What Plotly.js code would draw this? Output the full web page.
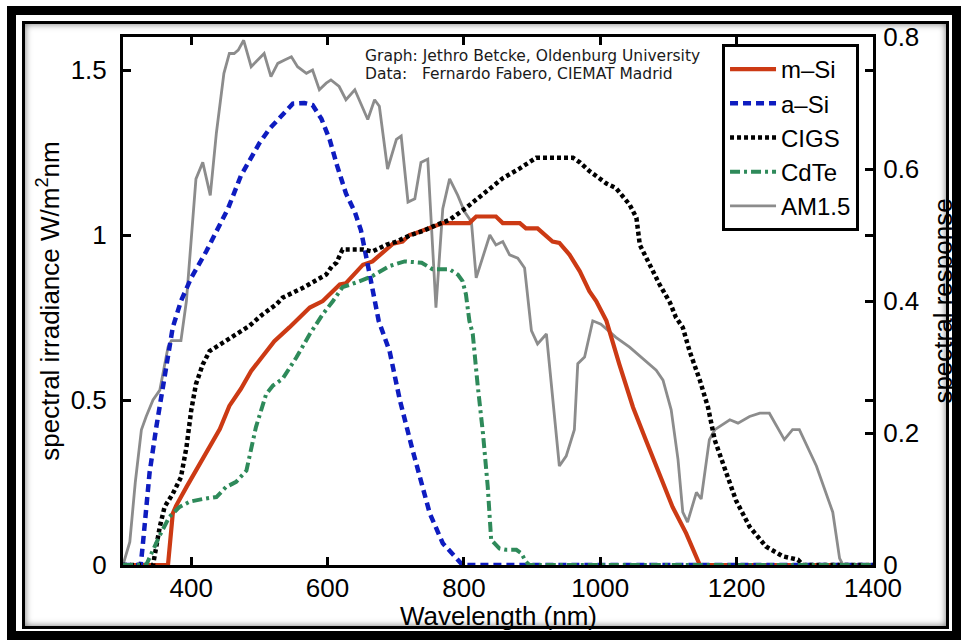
<!DOCTYPE html>
<html>
<head>
<meta charset="utf-8">
<script src="https://cdn.plot.ly/plotly-3.0.1.min.js"></script>
<style>
  html, body { margin: 0; padding: 0; background: #fff; }
  #wrap { position: relative; width: 961px; height: 641px; overflow: hidden; }
  #chart { position: absolute; left: 0; top: 0; width: 961px; height: 641px; }
  .frame-outer { position: absolute; left: 7px; top: 6px; width: 936px; height: 616px; border: 9px solid #000; pointer-events: none; }
  .frame-inner { position: absolute; left: 22px; top: 21px; width: 921px; height: 602px; border: 3px solid #000; pointer-events: none; box-shadow: inset 0 0 7px rgba(0,0,0,0.55); }
</style>
</head>
<body>
<div id="wrap">
  <div id="chart"></div>
  <div class="frame-outer"></div>
  <div class="frame-inner"></div>
</div>
<script>
// AM1.5 spectral irradiance (W/m^2 nm), left axis
const am15_x = [300,310,318,327,334,344,354,366,371,385,393,401,407,417,428,437,448,456,463,469,477,488,498,507,517,527,537,547,556,569,578,588,598,605,617,627,640,659,669,676,688,701,708,718,728,737,747,759,769,779,791,801,811,818,838,847,857,867,879,889,899,908,921,940,950,962,967,977,989,1001,1023,1043,1082,1092,1104,1114,1121,1128,1141,1148,1160,1168,1190,1202,1219,1234,1248,1270,1282,1292,1317,1329,1341,1351,1356,1400];
const am15_y = [0,0.07,0.25,0.41,0.45,0.50,0.53,0.66,0.68,0.68,0.80,1.01,1.17,1.22,1.12,1.31,1.49,1.55,1.55,1.56,1.59,1.51,1.53,1.55,1.48,1.52,1.53,1.54,1.51,1.49,1.50,1.44,1.46,1.47,1.45,1.41,1.44,1.35,1.41,1.39,1.20,1.29,1.30,1.10,1.11,1.22,1.23,0.78,1.08,1.17,1.12,1.07,1.04,0.87,1.00,0.97,0.98,0.94,0.93,0.90,0.71,0.67,0.70,0.30,0.33,0.41,0.61,0.63,0.74,0.73,0.69,0.66,0.59,0.56,0.47,0.32,0.16,0.13,0.22,0.20,0.38,0.41,0.44,0.43,0.45,0.46,0.46,0.38,0.41,0.41,0.30,0.23,0.16,0.02,0,0];

// Spectral responses, right axis
const msi_x = [300,366,373,378,393,410,427,442,456,473,488,505,522,544,564,574,593,603,618,627,652,666,696,710,720,730,750,769,808,818,847,857,882,891,908,930,940,955,970,984,994,1009,1028,1048,1067,1087,1106,1126,1141,1146,1400];
const msi_y = [0,0,0.078,0.09,0.118,0.148,0.178,0.206,0.241,0.267,0.294,0.317,0.339,0.36,0.38,0.39,0.40,0.41,0.425,0.427,0.455,0.46,0.487,0.49,0.50,0.503,0.51,0.518,0.518,0.528,0.528,0.518,0.518,0.51,0.51,0.49,0.488,0.47,0.445,0.415,0.40,0.37,0.304,0.239,0.189,0.138,0.088,0.048,0.013,0,0];

const asi_x = [300,326,329,339,349,361,373,385,400,422,442,454,473,488,500,515,532,549,566,578,591,603,614,627,640,649,659,667,675,691,706,725,735,750,769,791,798,1400];
const asi_y = [0,0,0.03,0.14,0.21,0.29,0.36,0.40,0.435,0.475,0.516,0.54,0.59,0.616,0.639,0.661,0.679,0.699,0.70,0.697,0.676,0.645,0.605,0.563,0.535,0.507,0.455,0.41,0.37,0.324,0.25,0.173,0.133,0.078,0.033,0.008,0,0];

const cigs_x = [300,344,354,361,373,385,393,400,407,417,427,446,466,485,505,525,534,564,598,606,613,622,652,666,686,701,722,740,759,779,803,828,857,882,906,945,960,970,984,1009,1023,1043,1053,1058,1072,1087,1102,1111,1121,1131,1146,1158,1168,1185,1199,1219,1243,1268,1290,1297,1400];
const cigs_y = [0,0,0.058,0.088,0.108,0.133,0.178,0.234,0.274,0.304,0.324,0.337,0.35,0.362,0.38,0.395,0.405,0.42,0.44,0.452,0.458,0.478,0.478,0.475,0.485,0.49,0.50,0.506,0.515,0.523,0.541,0.561,0.586,0.601,0.617,0.617,0.617,0.610,0.597,0.578,0.571,0.546,0.526,0.485,0.455,0.425,0.398,0.375,0.36,0.324,0.28,0.239,0.189,0.138,0.098,0.058,0.028,0.013,0.008,0,0];

const cdte_x = [300,334,354,368,383,398,417,437,451,466,481,495,510,520,534,554,574,593,608,622,642,666,691,713,738,754,779,791,798,803,808,813,820,828,835,840,852,862,877,884,891,896,1400];
const cdte_y = [0,0,0.045,0.073,0.088,0.096,0.10,0.103,0.118,0.126,0.143,0.209,0.259,0.272,0.282,0.314,0.35,0.38,0.40,0.421,0.428,0.438,0.453,0.46,0.458,0.448,0.448,0.44,0.43,0.41,0.37,0.35,0.274,0.199,0.118,0.038,0.025,0.023,0.023,0.018,0.005,0,0];

const names = ['m\u2013Si','a\u2013Si','CIGS','CdTe','AM1.5'];
const xTicks = [400,600,800,1000,1200,1400];
const yTicks = [0,0.5,1,1.5];
const y2Ticks = [0,0.2,0.4,0.6,0.8];

const FONT = 'Liberation Sans, Arial, Helvetica, sans-serif';

const traces = [
  {x: am15_x, y: am15_y, name: names[4], yaxis: 'y', mode: 'lines', legendrank: 5,
   line: {color: '#8c8c8c', width: 2.8}},
  {x: msi_x, y: msi_y, name: names[0], yaxis: 'y2', mode: 'lines', legendrank: 1,
   line: {color: '#cc3a14', width: 4.2}},
  {x: asi_x, y: asi_y, name: names[1], yaxis: 'y2', mode: 'lines', legendrank: 2,
   line: {color: '#0e1cc0', width: 4.5, dash: '8px,5px'}},
  {x: cigs_x, y: cigs_y, name: names[2], yaxis: 'y2', mode: 'lines', legendrank: 3,
   line: {color: '#000000', width: 4.5, dash: '4px,3px'}},
  {x: cdte_x, y: cdte_y, name: names[3], yaxis: 'y2', mode: 'lines', legendrank: 4,
   line: {color: '#2e8a5a', width: 4, dash: '10px,4px,3px,4px'}}
];

const layout = {
  width: 961, height: 641,
  margin: {l: 123, r: 88, t: 37, b: 76, pad: 0},
  paper_bgcolor: '#ffffff', plot_bgcolor: '#ffffff',
  font: {family: FONT, size: 26, color: '#000'},
  showlegend: true,
  legend: {x: 0.7987, y: 0.9867, xanchor: 'left', yanchor: 'top',
           bgcolor: '#ffffff', bordercolor: '#000', borderwidth: 3,
           itemwidth: 46,
           font: {family: FONT, size: 24, color: '#000'}, tracegroupgap: 0},
  xaxis: {range: [300, 1400], tickvals: xTicks, ticktext: xTicks.map(String),
          ticks: 'inside', ticklen: 8, tickwidth: 3, tickcolor: '#000',
          showline: true, linewidth: 3, linecolor: '#000', mirror: 'ticks',
          showgrid: false, zeroline: false, ticklabelstandoff: -2,
          tickfont: {family: FONT, size: 26}},
  yaxis: {range: [0, 1.6], tickvals: yTicks, ticktext: ['0','0.5','1','1.5'],
          ticks: 'inside', ticklen: 8, tickwidth: 3, tickcolor: '#000',
          showline: true, linewidth: 3, linecolor: '#000', mirror: 'ticks',
          showgrid: false, zeroline: false, ticklabelstandoff: 8,
          tickfont: {family: FONT, size: 26},
          title: {text: 'spectral irradiance W/m<sup>2</sup>nm', font: {family: FONT, size: 26}, standoff: 4}},
  yaxis2: {range: [0, 0.8], tickvals: y2Ticks, ticktext: ['0','0.2','0.4','0.6','0.8'],
           overlaying: 'y', side: 'right',
           ticks: 'inside', ticklen: 8, tickwidth: 3, tickcolor: '#000',
           showline: true, linewidth: 3, linecolor: '#000',
           showgrid: false, zeroline: false, ticklabelstandoff: 2,
           tickfont: {family: FONT, size: 26},
           title: {text: 'spectral response', font: {family: FONT, size: 26}, standoff: 16}},
  annotations: [
    {xref: 'paper', yref: 'paper', x: 0.5, y: -0.096, xanchor: 'center', yanchor: 'middle',
     showarrow: false, text: 'Wavelength (nm)',
     font: {family: FONT, size: 26, color: '#000'}},
    {xref: 'paper', yref: 'paper', x: 0.3195, y: 0.964, xanchor: 'left', yanchor: 'middle',
     showarrow: false, text: 'Graph: Jethro Betcke, Oldenburg University',
     font: {family: 'DejaVu Sans, sans-serif', size: 15.5, color: '#1a1a1a'}},
    {xref: 'paper', yref: 'paper', x: 0.3195, y: 0.930, xanchor: 'left', yanchor: 'middle',
     showarrow: false, text: 'Data:&nbsp;&nbsp;&nbsp;Fernardo Fabero, CIEMAT Madrid',
     font: {family: 'DejaVu Sans, sans-serif', size: 15.5, color: '#1a1a1a'}}
  ]
};

Plotly.newPlot('chart', traces, layout, {displayModeBar: false, staticPlot: true});
</script>
</body>
</html>
